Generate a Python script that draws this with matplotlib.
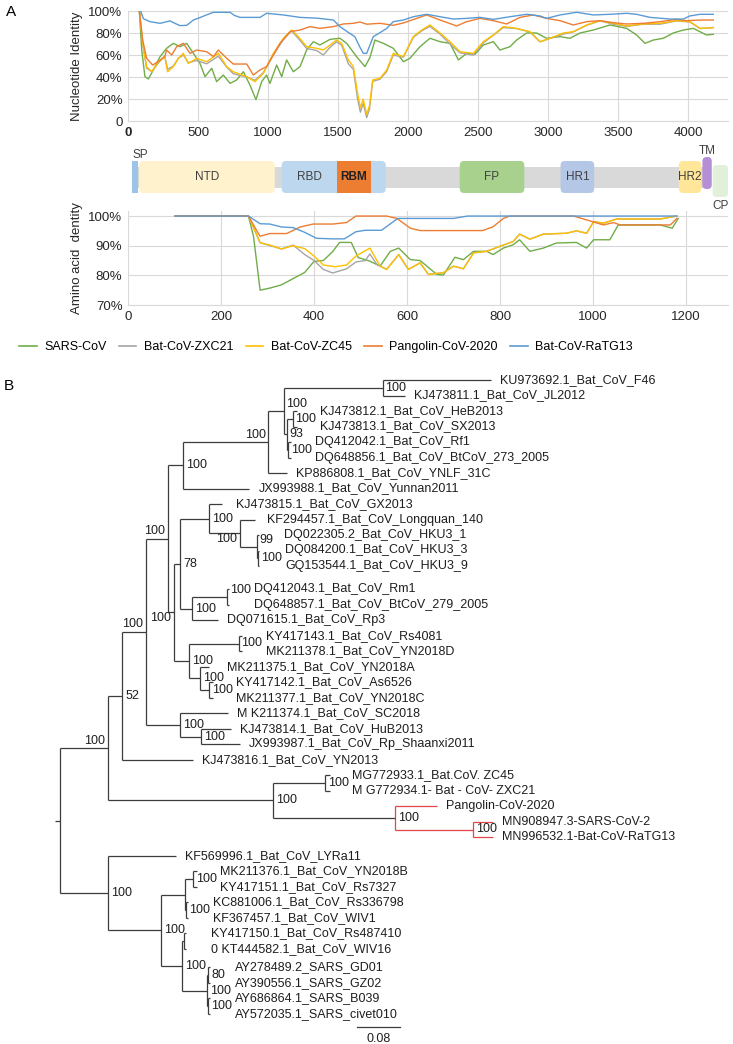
import matplotlib
matplotlib.use('Agg')
import matplotlib.pyplot as plt
from matplotlib.patches import FancyBboxPatch, Rectangle
from matplotlib.lines import Line2D

plt.rcParams['font.family'] = ['Liberation Sans', 'DejaVu Sans']
plt.rcParams['font.size'] = 9.5

# ---------------- panel A : sliding window identity ----------------
series_names = ['SARS-CoV', 'Bat-CoV-ZXC21', 'Bat-CoV-ZC45', 'Pangolin-CoV-2020', 'Bat-CoV-RaTG13']
series_colors = ['#70AD47', '#A5A5A5', '#FFC000', '#ED7D31', '#5B9BD5']

# nucleotide identity (x = nt position)
nt_sars_x = [81, 98, 121, 145, 181, 229, 276, 324, 371, 419, 467, 514, 550, 598, 633, 681, 729, 776, 824,
             871, 914, 955, 990, 1014, 1062, 1098, 1133, 1181, 1229, 1276, 1324, 1371, 1443, 1514, 1562,
             1633, 1693, 1729, 1764, 1824, 1895, 1967, 2014, 2086, 2157, 2229, 2300, 2360, 2419, 2479,
             2538, 2610, 2657, 2729, 2776, 2848, 2919, 2990, 3086, 3157, 3229, 3324, 3443, 3562, 3633,
             3693, 3752, 3824, 3895, 3967, 4038, 4133, 4181]
nt_sars_y = [1.0, 0.645, 0.403, 0.382, 0.464, 0.585, 0.661, 0.706, 0.676, 0.706, 0.615, 0.524, 0.403,
             0.479, 0.358, 0.418, 0.342, 0.373, 0.448, 0.327, 0.194, 0.358, 0.418, 0.342, 0.509, 0.403,
             0.555, 0.448, 0.494, 0.645, 0.721, 0.691, 0.742, 0.752, 0.706, 0.585, 0.494, 0.58, 0.736,
             0.706, 0.661, 0.539, 0.57, 0.676, 0.752, 0.721, 0.706, 0.555, 0.615, 0.606, 0.691, 0.721,
             0.645, 0.676, 0.736, 0.8, 0.8, 0.752, 0.767, 0.752, 0.8, 0.827, 0.873, 0.842, 0.782, 0.706,
             0.736, 0.752, 0.8, 0.827, 0.842, 0.782, 0.788]

nt_zc_x = [81, 105, 133, 169, 219, 262, 283, 324, 360, 395, 431, 490, 562, 645, 705, 752, 848, 907, 967,
           1038, 1110, 1169, 1217, 1276, 1348, 1395, 1443, 1490, 1526, 1574, 1610, 1640, 1660, 1680, 1705,
           1725, 1748, 1800, 1848, 1895, 1967, 2038, 2098, 2157, 2229, 2300, 2371, 2467, 2538, 2610, 2681,
           2776, 2871, 2943, 3014, 3110, 3181, 3276, 3371, 3467, 3562, 3681, 3800, 3919, 4014, 4086, 4181]
nt_zxc21_y = [1.0, 0.70, 0.48, 0.45, 0.53, 0.59, 0.47, 0.50, 0.57, 0.60, 0.53, 0.55, 0.52, 0.59, 0.49,
              0.43, 0.40, 0.37, 0.44, 0.60, 0.74, 0.82, 0.75, 0.66, 0.64, 0.60, 0.67, 0.72, 0.69, 0.52,
              0.47, 0.20, 0.08, 0.16, 0.03, 0.11, 0.36, 0.38, 0.45, 0.60, 0.58, 0.76, 0.82, 0.86, 0.79,
              0.70, 0.62, 0.60, 0.71, 0.78, 0.85, 0.84, 0.81, 0.72, 0.75, 0.79, 0.81, 0.87, 0.91, 0.88,
              0.86, 0.88, 0.88, 0.91, 0.90, 0.84, 0.85]
nt_zc45_y = [1.0, 0.706, 0.494, 0.448, 0.539, 0.585, 0.448, 0.494, 0.57, 0.615, 0.524, 0.57, 0.539, 0.615,
             0.494, 0.448, 0.403, 0.358, 0.433, 0.615, 0.752, 0.827, 0.767, 0.676, 0.661, 0.645, 0.691,
             0.736, 0.706, 0.555, 0.494, 0.25, 0.12, 0.2, 0.06, 0.14, 0.373, 0.388, 0.464, 0.615, 0.585,
             0.767, 0.827, 0.873, 0.8, 0.721, 0.63, 0.615, 0.721, 0.782, 0.858, 0.842, 0.812, 0.721,
             0.752, 0.8, 0.812, 0.873, 0.912, 0.888, 0.864, 0.882, 0.888, 0.912, 0.903, 0.842, 0.848]

nt_pang_x = [81, 105, 133, 176, 214, 262, 276, 312, 348, 395, 443, 490, 562, 610, 645, 705, 752, 848, 895,
             943, 990, 1038, 1086, 1157, 1229, 1300, 1371, 1467, 1538, 1610, 1657, 1705, 1800, 1895, 1967,
             2062, 2133, 2229, 2348, 2419, 2514, 2610, 2705, 2800, 2895, 2990, 3086, 3181, 3276, 3371,
             3467, 3562, 3681, 3800, 3919, 3990, 4086, 4181]
nt_pang_y = [1.0, 0.736, 0.57, 0.509, 0.539, 0.585, 0.645, 0.60, 0.676, 0.706, 0.615, 0.645, 0.63, 0.585,
             0.645, 0.57, 0.518, 0.518, 0.418, 0.464, 0.494, 0.60, 0.706, 0.812, 0.827, 0.858, 0.842,
             0.858, 0.882, 0.888, 0.9, 0.88, 0.888, 0.87, 0.891, 0.933, 0.964, 0.918, 0.864, 0.903, 0.933,
             0.912, 0.882, 0.942, 0.964, 0.933, 0.912, 0.873, 0.903, 0.912, 0.894, 0.882, 0.888, 0.903,
             0.924, 0.912, 0.918, 0.918]

nt_ratg_x = [90, 110, 157, 229, 300, 340, 371, 420, 467, 514, 560, 610, 729, 760, 800, 943, 990, 1110,
             1229, 1350, 1467, 1514, 1580, 1620, 1657, 1681, 1705, 1752, 1800, 1848, 1895, 1967, 2038,
             2133, 2229, 2324, 2419, 2514, 2610, 2729, 2848, 2943, 2990, 3086, 3205, 3324, 3443, 3562,
             3633, 3729, 3871, 3967, 4014, 4086, 4181]
nt_ratg_y = [1.0, 0.93, 0.903, 0.888, 0.91, 0.885, 0.867, 0.87, 0.918, 0.94, 0.964, 0.988, 0.988, 0.96,
             0.942, 0.942, 0.979, 0.964, 0.942, 0.935, 0.918, 0.858, 0.80, 0.767, 0.67, 0.615, 0.615,
             0.767, 0.803, 0.842, 0.903, 0.918, 0.948, 0.970, 0.948, 0.927, 0.933, 0.942, 0.924, 0.948,
             0.970, 0.955, 0.933, 0.964, 0.988, 0.964, 0.97, 0.979, 0.97, 0.942, 0.927, 0.927, 0.955,
             0.97, 0.97]

# amino acid identity (x = aa position)
aa_sars_x = [101, 259, 270, 284, 305, 330, 355, 380, 400, 420, 440, 455, 480, 495, 520, 542, 564, 582,
             607, 628, 664, 678, 703, 721, 743, 771, 785, 807, 828, 842, 864, 893, 921, 964, 986, 1001,
             1036, 1054, 1144, 1170, 1183]
aa_sars_y = [1.0, 1.0, 0.93, 0.75, 0.757, 0.768, 0.789, 0.81, 0.847, 0.85, 0.88, 0.911, 0.911, 0.86,
             0.848, 0.831, 0.881, 0.892, 0.853, 0.85, 0.803, 0.801, 0.861, 0.853, 0.881, 0.881, 0.87,
             0.892, 0.903, 0.92, 0.881, 0.892, 0.909, 0.911, 0.892, 0.92, 0.92, 0.97, 0.97, 0.959, 0.992]
aa_zxc21_x = [101, 259, 284, 330, 355, 380, 400, 420, 440, 470, 490, 510, 520, 535, 556, 582, 603, 628,
              646, 678, 700, 721, 743, 771, 800, 828, 842, 864, 893, 943, 964, 986, 1001, 1022, 1051,
              1144, 1180]
aa_zxc21_y = [1.0, 1.0, 0.91, 0.889, 0.902, 0.87, 0.85, 0.82, 0.808, 0.822, 0.845, 0.85, 0.872, 0.837,
              0.82, 0.87, 0.82, 0.842, 0.803, 0.809, 0.831, 0.822, 0.876, 0.881, 0.898, 0.914, 0.939,
              0.922, 0.939, 0.942, 0.95, 0.942, 0.981, 0.976, 0.99, 0.99, 1.0]
aa_zc45_x = [101, 259, 284, 305, 330, 355, 380, 400, 420, 445, 470, 490, 520, 542, 556, 582, 603, 628,
             646, 678, 700, 721, 743, 771, 800, 828, 842, 864, 893, 943, 964, 986, 1001, 1022, 1051,
             1144, 1180]
aa_zc45_y = [1.0, 1.0, 0.91, 0.902, 0.889, 0.90, 0.89, 0.865, 0.835, 0.829, 0.835, 0.865, 0.892, 0.831,
             0.82, 0.87, 0.82, 0.842, 0.803, 0.809, 0.831, 0.822, 0.876, 0.881, 0.898, 0.914, 0.939,
             0.922, 0.939, 0.942, 0.95, 0.942, 0.981, 0.976, 0.99, 0.99, 1.0]
aa_pang_x = [101, 259, 277, 284, 305, 341, 370, 398, 440, 470, 490, 556, 578, 607, 628, 763, 785, 807,
             821, 958, 986, 1022, 1044, 1058, 1166, 1180]
aa_pang_y = [1.0, 1.0, 0.95, 0.932, 0.941, 0.941, 0.963, 0.973, 0.973, 0.978, 1.0, 1.0, 0.992, 0.959,
             0.951, 0.951, 0.964, 0.992, 1.0, 1.0, 0.987, 0.97, 0.978, 0.97, 0.97, 0.992]
aa_ratg_x = [101, 259, 284, 305, 330, 355, 380, 405, 440, 465, 490, 510, 545, 580, 700, 730, 1180]
aa_ratg_y = [1.0, 1.0, 0.974, 0.973, 0.963, 0.961, 0.945, 0.925, 0.923, 0.923, 0.947, 0.952, 0.952,
             0.992, 0.992, 1.0, 1.0]

nt_series = [(nt_sars_x, nt_sars_y), (nt_zc_x, nt_zxc21_y), (nt_zc_x, nt_zc45_y),
             (nt_pang_x, nt_pang_y), (nt_ratg_x, nt_ratg_y)]
aa_series = [(aa_sars_x, aa_sars_y), (aa_zxc21_x, aa_zxc21_y), (aa_zc45_x, aa_zc45_y),
             (aa_pang_x, aa_pang_y), (aa_ratg_x, aa_ratg_y)]

# spike domains (nt coordinates)
domain_names = ['SP', 'NTD', 'RBD', 'RBM', 'FP', 'HR1', 'HR2', 'TM', 'CP']
domain_start = [29, 79, 1098, 1495, 2370, 3090, 3935, 4103, 4176]
domain_end = [70, 1048, 1841, 1733, 2831, 3330, 4094, 4170, 4288]
domain_colors = ['#9DC3E6', '#FFF2CC', '#BDD7EE', '#ED7D31', '#A9D18E', '#B4C7E7', '#FFE699',
                 '#B58FD6', '#E2F0D9']
backbone = (35, 4150)

# ---------------- panel B : tree ----------------
# tip = (name, branch length); node = (support, branch length, [children])
tree = (None, 0.009, [
    ('100', 0.089, [
        ('52', 0.026, [
            ('100', 0.044, [
                ('100', 0.041, [
                    ('100', 0.028, [
                        ('100', 0.157, [
                            ('100', 0.028, [
                                ('100', 0.183, [('KU973692.1_Bat_CoV_F46', 0.200),
                                                ('KJ473811.1_Bat_CoV_JL2012', 0.042)]),
                                ('93', 0.006, [
                                    ('100', 0.011, [('KJ473812.1_Bat_CoV_HeB2013', 0.007),
                                                    ('KJ473813.1_Bat_CoV_SX2013', 0.007)]),
                                    ('100', 0.002, [('DQ412042.1_Bat_CoV_Rf1', 0.006),
                                                    ('DQ648856.1_Bat_CoV_BtCoV_273_2005', 0.006)])])]),
                            ('KP886808.1_Bat_CoV_YNLF_31C', 0.035)]),
                        ('JX993988.1_Bat_CoV_Yunnan2011', 0.122)]),
                    ('100', 0.011, [
                        ('78', 0.011, [
                            ('100', 0.054, [
                                ('KJ473815.1_Bat_CoV_GX2013', 0.024),
                                ('100', 0.057, [
                                    ('KF294457.1_Bat_CoV_Longquan_140', 0.028),
                                    ('99', 0.031, [
                                        ('DQ022305.2_Bat_CoV_HKU3_1', 0.004),
                                        ('100', 0.002, [('DQ084200.1_Bat_CoV_HKU3_3', 0.002),
                                                        ('GQ153544.1_Bat_CoV_HKU3_9', 0.002)])])])]),
                            ('100', 0.022, [
                                ('100', 0.065, [('DQ412043.1_Bat_CoV_Rm1', 0.004),
                                                ('DQ648857.1_Bat_CoV_BtCoV_279_2005', 0.004)]),
                                ('DQ071615.1_Bat_CoV_Rp3', 0.048)])]),
                        ('100', 0.028, [
                            ('100', 0.091, [('KY417143.1_Bat_CoV_Rs4081', 0.007),
                                            ('MK211378.1_Bat_CoV_YN2018D', 0.007)]),
                            ('100', 0.020, [
                                ('MK211375.1_Bat_CoV_YN2018A', 0.017),
                                ('100', 0.017, [('KY417142.1_Bat_CoV_As6526', 0.006),
                                                ('MK211377.1_Bat_CoV_YN2018C', 0.006)])])])])]),
                ('100', 0.063, [
                    ('M K211374.1_Bat_CoV_SC2018', 0.089),
                    ('100', 0.039, [('KJ473814.1_Bat_CoV_HuB2013', 0.054),
                                    ('JX993987.1_Bat_CoV_Rp_Shaanxi2011', 0.072)])])]),
            ('KJ473816.1_Bat_CoV_YN2013', 0.131)]),
        ('100', 0.305, [
            ('100', 0.096, [('MG772933.1_Bat.CoV. ZC45', 0.009),
                            ('M G772934.1- Bat - CoV- ZXC21', 0.009)]),
            ('100', 0.225, [
                ('Pangolin-CoV-2020', 0.078),
                ('100', 0.144, [('MN908947.3-SARS-CoV-2', 0.037),
                                ('MN996532.1-Bat-CoV-RaTG13', 0.037)])])])]),
    ('100', 0.089, [
        ('KF569996.1_Bat_CoV_LYRa11', 0.126),
        ('100', 0.098, [
            (None, 0.044, [
                ('100', 0.015, [('MK211376.1_Bat_CoV_YN2018B', 0.007),
                                ('KY417151.1_Bat_CoV_Rs7327', 0.007)]),
                ('100', 0.002, [('KC881006.1_Bat_CoV_Rs336798', 0.004),
                                ('KF367457.1_Bat_CoV_WIV1', 0.004)])]),
            ('100', 0.039, [
                (None, 0.004, [('KY417150.1_Bat_CoV_Rs487410', 0.002),
                               ('0 KT444582.1_Bat_CoV_WIV16', 0.002)]),
                ('100', 0.046, [
                    ('80', 0.002, [('AY278489.2_SARS_GD01', 0.004),
                                   ('AY390556.1_SARS_GZ02', 0.004)]),
                    ('100', 0.002, [('AY686864.1_SARS_B039', 0.004),
                                    ('AY572035.1_SARS_civet010', 0.004)])])])])])])

highlight_clade = 'Pangolin-CoV-2020'   # first tip of the red clade

# ---------------- layout ----------------
W, H = 733, 1044
fig = plt.figure(figsize=(W / 100, H / 100), dpi=100)


def frac(x0, y0, x1, y1):
    return [x0 / W, 1 - y1 / H, (x1 - x0) / W, (y1 - y0) / H]


def style_excel(ax):
    ax.grid(True, color='#D9D9D9', lw=0.8)
    ax.set_axisbelow(True)
    for s in ['top', 'right', 'left']:
        ax.spines[s].set_visible(False)
    ax.spines['bottom'].set_color('#D9D9D9')
    ax.tick_params(length=0, pad=4, labelsize=9.5, colors='#262626')


# nucleotide panel
ax1 = fig.add_axes(frac(128, 11, 728, 121))
for (xs, ys), c in zip(nt_series, series_colors):
    ax1.plot(xs, ys, color=c, lw=1.0, solid_joinstyle='round')
ax1.set_xlim(0, 4286)
ax1.set_ylim(0, 1.0)
ax1.set_xticks(range(0, 4001, 500))
ax1.set_yticks([0, 0.2, 0.4, 0.6, 0.8, 1.0])
ax1.set_yticklabels(['0', '20%', '40%', '60%', '80%', '100%'])
style_excel(ax1)
ax1.get_xticklabels()[0].set_fontweight('bold')
ax1.set_ylabel('Nucleotide Identity', fontsize=9.5, color='#262626')

# domain bar
axd = fig.add_axes(frac(128, 140, 728, 212))
axd.set_xlim(0, 4286)
axd.set_ylim(212, 140)
axd.axis('off')
axd.add_patch(Rectangle((backbone[0], 167), backbone[1] - backbone[0], 21, color='#D9D9D9', lw=0))
for name, s, e, c in zip(domain_names, domain_start, domain_end, domain_colors):
    top, h = 161, 32
    if name == 'TM':
        top = 157
    if name == 'CP':
        top = 165
    if name in ('SP', 'RBM'):
        axd.add_patch(Rectangle((s, top), e - s, h, color=c, lw=0))
    else:
        axd.add_patch(FancyBboxPatch((s, top), e - s, h, boxstyle='round,pad=0,rounding_size=30',
                                     mutation_aspect=0.14, fc=c, ec='none'))
    cx = (s + e) / 2
    if name == 'RBD':
        cx = (s + domain_start[domain_names.index('RBM')]) / 2
    if name in ('SP', 'TM'):
        axd.text(cx + (40 if name == 'SP' else 0), top - 6, name, ha='center', va='center',
                 fontsize=8.5, color='#404040')
    elif name == 'CP':
        axd.text(cx, top + h + 9, name, ha='center', va='center', fontsize=8.5, color='#404040')
    else:
        axd.text(cx, top + h / 2, name, ha='center', va='center', fontsize=8.5,
                 color='#202020' if name == 'RBM' else '#404040',
                 fontweight='bold' if name == 'RBM' else 'normal')

# amino acid panel
ax2 = fig.add_axes(frac(128, 211, 728, 305))
for (xs, ys), c in zip(aa_series, series_colors):
    ax2.plot(xs, ys, color=c, lw=1.0, solid_joinstyle='round')
ax2.set_xlim(0, 1290)
ax2.set_ylim(0.7, 1.017)
ax2.set_xticks(range(0, 1201, 200))
ax2.set_yticks([0.7, 0.8, 0.9, 1.0])
ax2.set_yticklabels(['70%', '80%', '90%', '100%'])
style_excel(ax2)
ax2.set_ylabel('Amino acid  dentity', fontsize=9.5, color='#262626')

handles = [Line2D([], [], color=c, lw=1.2) for c in series_colors]
fig.legend(handles, series_names, loc='center', bbox_to_anchor=(326 / W, 1 - 347 / H), ncol=5,
           frameon=False, fontsize=9, handlelength=1.4, columnspacing=1.0, handletextpad=0.6)

fig.text(6 / W, 1 - 12 / H, 'A', fontsize=11, va='center')
fig.text(4 / W, 1 - 386 / H, 'B', fontsize=11, va='center')

# tree panel
PX = 541.3          # pixels per substitution unit (0.08 bar = 43 px)
ROW = 15.5          # pixels per tip row
axt = fig.add_axes(frac(0, 370, 733, 1044))
axt.set_xlim(-60 / PX, 673 / PX)
axt.set_ylim(664 / ROW, -10 / ROW)
axt.axis('off')

row_gap = {'GQ153544.1_Bat_CoV_HKU3_9': 0.5, 'MN996532.1-Bat-CoV-RaTG13': 0.2,
           '0 KT444582.1_Bat_CoV_WIV16': 0.2}
label_place = {
    ('KU973692.1_Bat_CoV_F46', 'MN996532.1-Bat-CoV-RaTG13'): 'la',
    ('KU973692.1_Bat_CoV_F46', 'JX993987.1_Bat_CoV_Rp_Shaanxi2011'): 'la',
    ('KU973692.1_Bat_CoV_F46', 'MK211377.1_Bat_CoV_YN2018C'): 'la',
    ('KU973692.1_Bat_CoV_F46', 'KP886808.1_Bat_CoV_YNLF_31C'): 'la',
    ('KU973692.1_Bat_CoV_F46', 'DQ648856.1_Bat_CoV_BtCoV_273_2005'): 'ra',
    ('KF294457.1_Bat_CoV_Longquan_140', 'GQ153544.1_Bat_CoV_HKU3_9'): 'lb',
    ('KJ473815.1_Bat_CoV_GX2013', 'MK211377.1_Bat_CoV_YN2018C'): 'lb',
    ('DQ022305.2_Bat_CoV_HKU3_1', 'GQ153544.1_Bat_CoV_HKU3_9'): 'ra',
    ('DQ412043.1_Bat_CoV_Rm1', 'DQ648857.1_Bat_CoV_BtCoV_279_2005'): 'ra',
}
place_args = {'r': ((2, 0), 'left', 'center'), 'ra': ((2, 5), 'left', 'center'),
              'la': ((-2, 1), 'right', 'bottom'), 'lb': ((-2, -4), 'right', 'center')}

LINE = '#3c3c3c'
RED = '#E2464B'
TXT = '#1e1e1e'


def is_tip(n):
    return len(n) == 2


def tips_of(n):
    if is_tip(n):
        return [n[0]]
    out = []
    for k in n[2]:
        out += tips_of(k)
    return out


rows = {}
r = 0.0
for name in tips_of(tree):
    rows[name] = r
    r += 1 + row_gap.get(name, 0)


def draw(node, x_parent, color):
    x = x_parent + node[1]
    if is_tip(node):
        y = rows[node[0]]
        axt.plot([x_parent, x], [y, y], color=color, lw=0.9, solid_capstyle='butt')
        lx = x_parent + 27 / PX if node[1] < 0.033 else x + 9 / PX
        axt.text(lx, y, node[0], ha='left', va='center', fontsize=9, color=TXT)
        return y
    support, bl, kids = node
    tips = tips_of(node)
    kid_color = RED if tips[0] == highlight_clade else color
    ys = [draw(k, x, kid_color) for k in kids]
    y = (min(ys) + max(ys)) / 2
    axt.plot([x, x], [min(ys), max(ys)], color=kid_color, lw=0.9, solid_capstyle='butt')
    axt.plot([x_parent, x], [y, y], color=color, lw=0.9, solid_capstyle='butt')
    if support:
        off, ha, va = place_args[label_place.get((tips[0], tips[-1]), 'r')]
        axt.annotate(support, (x, y), xytext=off, textcoords='offset points', ha=ha, va=va,
                     fontsize=9, color=TXT)
    return y


draw(tree, -tree[1], LINE)

# scale bar
last = max(rows.values())
bar_x = (356.7 - 60) / PX
axt.plot([bar_x, bar_x + 0.08], [last + 0.84, last + 0.84], color=LINE, lw=0.9)
axt.text(bar_x + 0.04, last + 1.6, '0.08', ha='center', va='center', fontsize=9, color=TXT)

fig.savefig('out.png', dpi=100)
